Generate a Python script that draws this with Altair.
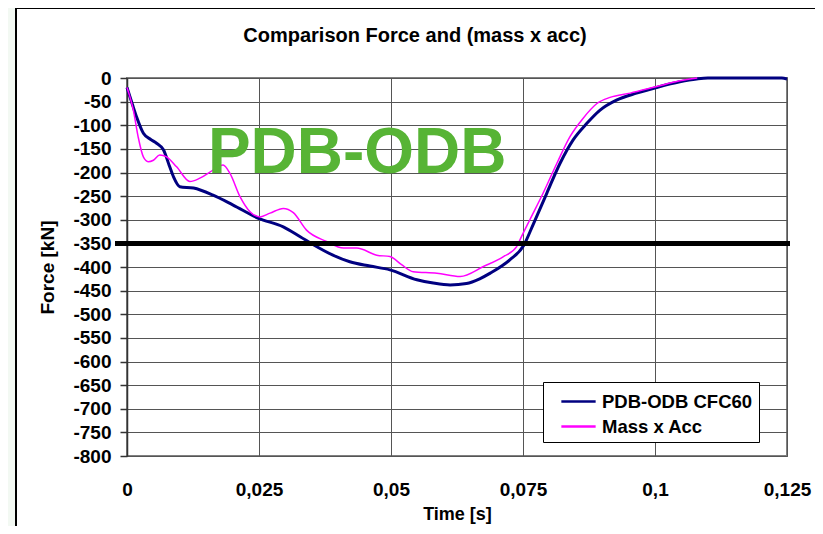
import altair as alt
import pandas as pd

# ---- data ----
series_names = ["PDB-ODB CFC60", "Mass x Acc"]
series_colors = ["#000080", "#ff00ff"]

navy_t = [0.0000, 0.0010, 0.0018, 0.0031, 0.0045, 0.0056, 0.0069, 0.0080, 0.0088, 0.0100,
          0.0126, 0.0163, 0.0201, 0.0249, 0.0296, 0.0328, 0.0353, 0.0390, 0.0422, 0.0460,
          0.0498, 0.0549, 0.0580, 0.0612, 0.0643, 0.0668, 0.0688, 0.0725, 0.0751, 0.0770,
          0.0795, 0.0820, 0.0845, 0.0871, 0.0896, 0.0927, 0.0965, 0.1003, 0.1047, 0.1079,
          0.1100, 0.1240, 0.1250]
navy_f = [-20, -55, -82, -117, -130, -138, -152, -185, -209, -230,
          -233, -248, -269, -297, -315, -336, -353, -375, -389, -398,
          -406, -427, -434, -438, -435, -425, -413, -385, -355, -308,
          -244, -181, -131, -96, -68, -47, -32, -20, -8, -2,
          0, 0, -2]

mag_t = [0.0000, 0.0012, 0.0021, 0.0031, 0.0040, 0.0050, 0.0062, 0.0075, 0.0094, 0.0119,
         0.0138, 0.0163, 0.0182, 0.0195, 0.0214, 0.0233, 0.0252, 0.0271, 0.0296, 0.0315,
         0.0340, 0.0378, 0.0410, 0.0435, 0.0473, 0.0498, 0.0520, 0.0542, 0.0587, 0.0631,
         0.0675, 0.0713, 0.0738, 0.0744, 0.0763, 0.0788, 0.0814, 0.0839, 0.0864, 0.0890,
         0.0915, 0.0953, 0.1003, 0.1047, 0.1080]
mag_f = [-20, -68, -124, -167, -177, -174, -163, -167, -188, -219,
         -212, -195, -184, -202, -251, -283, -294, -286, -276, -285,
         -322, -346, -360, -360, -375, -378, -395, -410, -413, -420,
         -399, -378, -357, -343, -300, -244, -181, -124, -85, -54,
         -41, -32, -18, -6, 0]

x_ticks = [0, 0.025, 0.05, 0.075, 0.1, 0.125]
y_ticks = list(range(-800, 1, 50))
ref_level = -350
watermark = "PDB-ODB"
watermark_t = 0.0436
watermark_f = -201

title_text = "Comparison Force and (mass x acc)"
x_title = "Time [s]"
y_title = "Force [kN]"

# ---- tables ----
df_navy = pd.DataFrame({"t": navy_t, "F": navy_f, "series": series_names[0]})
df_mag = pd.DataFrame({"t": mag_t, "F": mag_f, "series": series_names[1]})

W, H = 660, 378
FONT = "Liberation Sans"

xs = alt.Scale(domain=[0, 0.125], nice=False, zero=False)
ys = alt.Scale(domain=[-800, 0], nice=False)
color_scale = alt.Scale(domain=series_names, range=series_colors)

x_axis = alt.Axis(values=x_ticks, labelExpr="replace(toString(datum.value), '.', ',')",
                  grid=True, gridColor="#555555", gridWidth=1, domain=False, ticks=False,
                  labelPadding=24, labelFont=FONT, labelFontSize=19, labelFontWeight="bold",
                  labelColor="black", title=x_title, titleFont=FONT, titleFontSize=18,
                  titleFontWeight="bold", titleColor="black", titleBaseline="alphabetic",
                  titleY=63, labelFlush=False, labelOverlap=False)
y_axis = alt.Axis(values=y_ticks, labelExpr="toString(datum.value)", labelOverlap=False,
                  grid=True, gridColor="#555555", gridWidth=1,
                  domain=True, domainColor="#333333", domainWidth=1.5,
                  ticks=True, tickSize=7, tickColor="#333333", tickWidth=1.5,
                  labelPadding=9, labelFont=FONT, labelFontSize=19, labelFontWeight="bold",
                  labelColor="black", title=y_title, titleFont=FONT, titleFontSize=19,
                  titleFontWeight="bold", titleColor="black", titleX=-80, titleY=H / 2,
                  titleAngle=-90, titleAlign="center", titleBaseline="middle")

legend = alt.Legend(title=None, orient="none", legendX=416, legendY=304,
                    fillColor="white", strokeColor="black", padding=6,
                    symbolType="M-1.4,0H1.4", symbolSize=600, symbolStrokeWidth=2.5,
                    symbolOffset=16, labelOffset=10, labelFont=FONT, labelFontSize=18.5,
                    labelFontWeight="bold", labelColor="black", rowPadding=2,
                    labelLimit=300)

one = pd.DataFrame({"k": [0]})

strip = alt.Chart(one).mark_rect(color="#f3f9f3").encode(
    x=alt.value(-119), x2=alt.value(-111), y=alt.value(-70), y2=alt.value(H + 70))
left_border = alt.Chart(one).mark_rule(color="black", strokeWidth=2).encode(
    x=alt.value(-111), y=alt.value(-71), y2=alt.value(H + 70))
top_border = alt.Chart(one).mark_rule(color="black", strokeWidth=2).encode(
    x=alt.value(-111), x2=alt.value(W + 30), y=alt.value(-70))

title = alt.Chart(pd.DataFrame({"label": [title_text]})).mark_text(
    font=FONT, fontSize=20, fontWeight="bold", color="black", align="center", baseline="alphabetic"
).encode(x=alt.value(288), y=alt.value(-36), text="label:N")

navy = alt.Chart(df_navy).mark_line(strokeWidth=3, interpolate="monotone").encode(
    x=alt.X("t:Q", scale=xs, axis=x_axis),
    y=alt.Y("F:Q", scale=ys, axis=y_axis),
    color=alt.Color("series:N", scale=color_scale, legend=legend),
)
mag = alt.Chart(df_mag).mark_line(strokeWidth=1.5, interpolate="monotone").encode(
    x=alt.X("t:Q", scale=xs, axis=x_axis),
    y=alt.Y("F:Q", scale=ys, axis=y_axis),
    color=alt.Color("series:N", scale=color_scale, legend=legend),
)

ref = alt.Chart(pd.DataFrame({"F": [ref_level]})).mark_rule(color="black", strokeWidth=5).encode(
    y=alt.Y("F:Q", scale=ys, axis=y_axis), x=alt.value(-12), x2=alt.value(W + 3))

wm = alt.Chart(pd.DataFrame({"t": [watermark_t], "F": [watermark_f], "label": [watermark]})).mark_text(
    font=FONT, fontSize=64, fontWeight="bold", color="#57b435", align="center", baseline="alphabetic"
).encode(x=alt.X("t:Q", scale=xs, axis=x_axis), y=alt.Y("F:Q", scale=ys, axis=y_axis), text="label:N")

chart = alt.layer(strip, left_border, top_border, title, navy, mag, ref, wm).properties(
    width=W, height=H,
    padding={"left": 119, "top": 70, "right": 28, "bottom": 70},
    autosize=alt.AutoSizeParams(type="none"),
    background="white",
).configure_view(stroke="#808080", strokeWidth=2)

chart.save("out.html", embed_options={"renderer": "svg", "actions": False})
